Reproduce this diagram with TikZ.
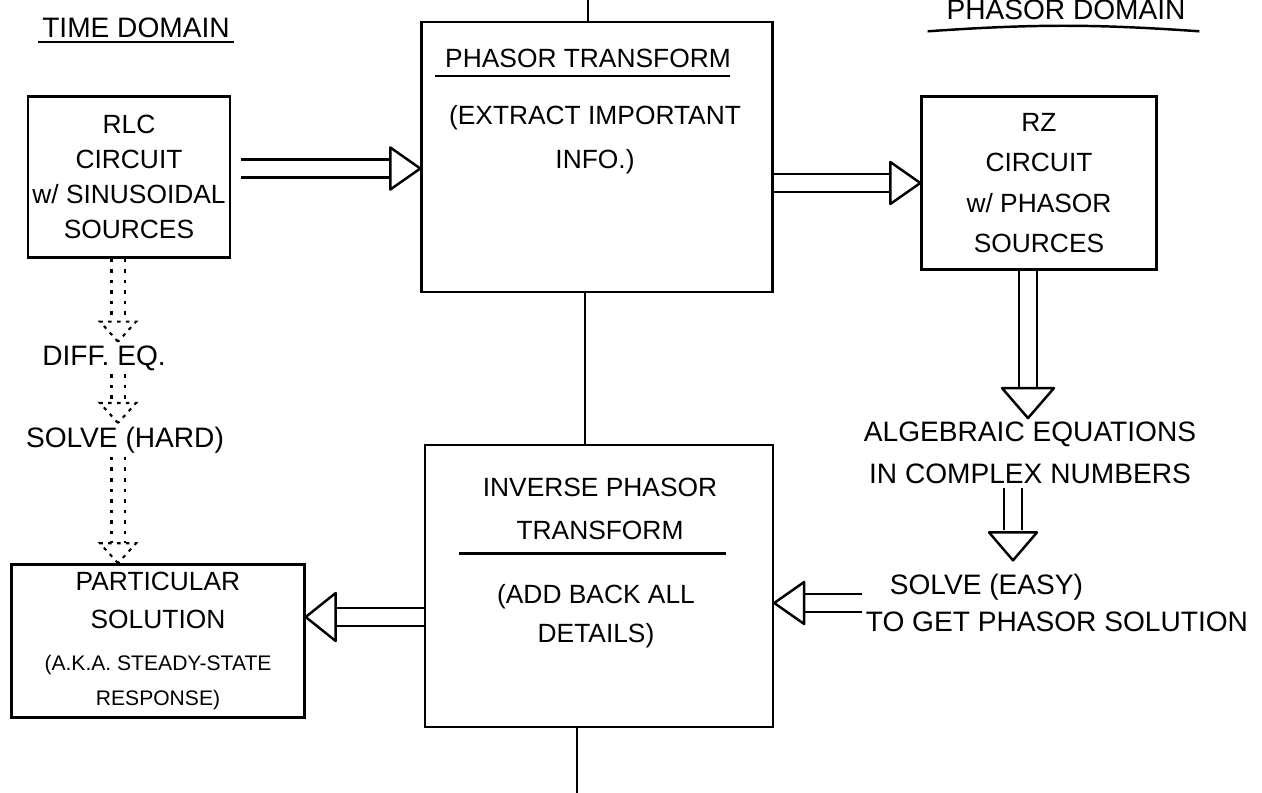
\documentclass[tikz,border=0pt]{standalone}
\usepackage{fontspec}
\setmainfont{Liberation Sans}
\usepackage{tikz}
\tikzset{box/.style={draw,line width=1.4pt,inner sep=2pt,align=center,font=\fontsize{15}{20}\selectfont},
  lbl/.style={inner sep=2pt,align=center,font=\fontsize{16}{24}\selectfont},
  dbl/.style={double,double distance=0.31cm,line width=1.4pt},
  dbldot/.style={double,double distance=0.22cm,line width=1.2pt,dash pattern=on 2pt off 4pt},
  tip/.style={line width=1.4pt,line join=round,fill=white},
  tipdot/.style={line width=1.2pt,dash pattern=on 2pt off 3pt}}

\begin{document}
\begin{tikzpicture}[x=0.02cm,y=-0.02cm]
        \useasboundingbox (0,0) rectangle (1262,793);

        \node[lbl] (td) at (136,28) {TIME DOMAIN};
        \node[lbl] (pd) at (1066,10) {PHASOR DOMAIN};

        \node[box,minimum width=4.04cm,minimum height=3.22cm] (rlc) at (129,177) {RLC\\CIRCUIT\\w/ SINUSOIDAL\\SOURCES};
        \node[box,minimum width=7.02cm,minimum height=5.4cm] (pt) at (597,157) {};
        \node[box,minimum width=4.7cm,minimum height=3.46cm,font=\fontsize{15}{23}\selectfont] (rz) at (1039,183) {RZ\\CIRCUIT\\w/ PHASOR\\SOURCES};
        \node[box,minimum width=6.96cm,minimum height=5.64cm] (ipt) at (599,586) {};
        \node[box,minimum width=5.86cm,minimum height=3.06cm] (ps) at (158,641) {PARTICULAR\\[2pt]SOLUTION\\[4pt]{\fontsize{12}{15}\selectfont (A.K.A. STEADY-STATE}\\{\fontsize{12}{15}\selectfont RESPONSE)}};

        \node[lbl,font=\fontsize{15}{20}\selectfont] (ptt) at (588,58) {PHASOR TRANSFORM};
        \node[lbl,font=\fontsize{15}{25}\selectfont] (pti) at (595,140) {(EXTRACT IMPORTANT\\INFO.)};
        \node[lbl,font=\fontsize{15}{24}\selectfont] (iptt) at (600,509) {INVERSE PHASOR\\TRANSFORM};
        \node[lbl,font=\fontsize{15}{22}\selectfont] (ipti) at (596,616) {(ADD BACK ALL\\DETAILS)};

        \node[lbl] (diff) at (104,358) {DIFF. EQ.};
        \node[lbl] (hard) at (125,440) {SOLVE (HARD)};
        \node[lbl] (alg) at (1030,453) {ALGEBRAIC EQUATIONS\\IN COMPLEX NUMBERS};
        \node[lbl,align=left,anchor=west,font=\fontsize{16}{21}\selectfont] (easy) at (862,603) {\hspace*{0.48cm}SOLVE (EASY)\\TO GET PHASOR SOLUTION};

        \coordinate (top) at (588,0);
        \coordinate (bot) at (577,793);

        % underlines
        \draw[line width=1.4pt] (td.south west) -- (td.south east);
        \draw[line width=1.4pt] ([xshift=-0.3cm,yshift=-0.15cm]pd.south west) to[bend left=4] ([xshift=0.2cm,yshift=-0.15cm]pd.south east);
        \draw[line width=1.4pt] ([xshift=-0.12cm,yshift=-0.1cm]ptt.south west) -- ([xshift=-0.1cm,yshift=-0.1cm]ptt.south east);
        \draw[line width=1.4pt] ([xshift=-0.4cm,yshift=-0.2cm]iptt.south west) -- ([xshift=0.1cm,yshift=-0.2cm]iptt.south east);

        % plain lines
        \draw[line width=1.4pt] (top) -- (top |- pt.north);
        \draw[line width=1.4pt] ([xshift=-0.24cm]pt.south) -- ([xshift=-0.24cm]pt.south |- ipt.north);
        \draw[line width=1.4pt] (bot |- ipt.south) -- (bot);

        % hollow arrows
        \draw[dbl] ([xshift=0.2cm,yshift=0.17cm]rlc.east) -- ([xshift=-0.6cm,yshift=0.17cm]rlc.east -| pt.west);
        \draw[tip] ([yshift=0.17cm]rlc.east -| pt.west) -- ++(-30,-21) -- ++(0,42) -- cycle;
        \draw[dbl] (pt.east |- rz.west) -- ([xshift=-0.6cm]rz.west);
        \draw[tip] (rz.west) -- ++(-30,-21) -- ++(0,42) -- cycle;
        \draw[dbl] ([xshift=-0.22cm]rz.south) -- ([xshift=-0.22cm,yshift=0.6cm]rz.south |- alg.north);
        \draw[tip] ([xshift=-0.22cm]rz.south |- alg.north) -- ++(-26,-30) -- ++(52,0) -- cycle;
        \draw[dbl] ([xshift=-0.34cm]alg.south) -- ([xshift=-0.34cm,yshift=0.8cm]alg.south |- easy.north);
        \draw[tip] ([xshift=-0.34cm,yshift=0.2cm]alg.south |- easy.north) -- ++(-24,-28) -- ++(48,0) -- cycle;
        \draw[dbl] (easy.west) -- ([xshift=0.6cm]ipt.east |- easy.west);
        \draw[tip] (ipt.east |- easy.west) -- ++(30,-21) -- ++(0,42) -- cycle;
        \draw[dbl] ([yshift=0.48cm]ipt.west |- ps.east) -- ([xshift=0.6cm,yshift=0.48cm]ps.east);
        \draw[tip] ([yshift=0.48cm]ps.east) -- ++(30,-24) -- ++(0,48) -- cycle;

        % dotted arrows
        \draw[dbldot] ([xshift=-0.22cm]rlc.south) -- ([xshift=-0.22cm,yshift=0.4cm]rlc.south |- diff.north);
        \draw[tipdot] ([xshift=-0.22cm]rlc.south |- diff.north) -- ++(-18,-20) -- ++(36,0) -- cycle;
        \draw[dbldot] ([xshift=-0.22cm]rlc.south |- diff.south) -- ([xshift=-0.22cm,yshift=0.4cm]rlc.south |- hard.north);
        \draw[tipdot] ([xshift=-0.22cm]rlc.south |- hard.north) -- ++(-18,-20) -- ++(36,0) -- cycle;
        \draw[dbldot] ([xshift=-0.22cm]rlc.south |- hard.south) -- ([xshift=-0.22cm,yshift=0.4cm]rlc.south |- ps.north);
        \draw[tipdot] ([xshift=-0.22cm]rlc.south |- ps.north) -- ++(-18,-20) -- ++(36,0) -- cycle;
\end{tikzpicture}
\end{document}
